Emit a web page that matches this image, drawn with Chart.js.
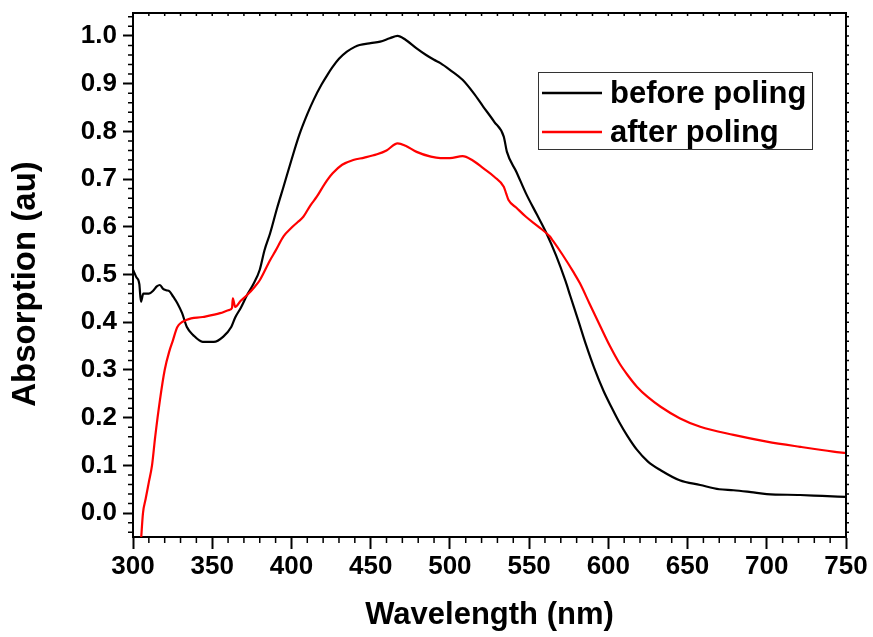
<!DOCTYPE html>
<html>
<head>
<meta charset="utf-8">
<script src="https://cdn.jsdelivr.net/npm/chart.js@4.4.0/dist/chart.umd.min.js"></script>
<style>
  html, body { margin: 0; padding: 0; background: #fff; }
  #wrap { width: 873px; height: 637px; }
</style>
</head>
<body>
<div id="wrap"><canvas id="absChart"></canvas></div>
<script>
const seriesLabels = ['before poling', 'after poling'];
const yTitle = 'Absorption (au)';
const xTitle = 'Wavelength (nm)';

const beforeWl = [300, 302, 304, 305, 306.5, 310, 313, 315, 317, 319, 321, 323, 325.5, 328, 331, 334, 338, 344, 351, 357,
  362, 364.5, 368, 372, 376, 380, 383, 386.5, 391, 395, 400, 405, 410, 414, 419, 423, 426, 430, 435, 440,
  443, 450, 456, 462, 467, 472, 479, 485, 490, 494, 500, 508, 515, 521, 528, 534, 536, 542, 548, 555,
  561, 567, 573, 576, 581, 586, 591, 597, 602, 607, 612, 618, 625, 633, 645, 658, 670, 679, 690, 700,
  721, 735, 750];
const beforeAbs = [0.51, 0.495, 0.48, 0.443, 0.46, 0.46, 0.467, 0.475, 0.478, 0.47, 0.467, 0.465, 0.453, 0.44, 0.419, 0.39, 0.373, 0.359, 0.359, 0.37,
  0.39, 0.41, 0.43, 0.457, 0.48, 0.51, 0.551, 0.586, 0.64, 0.684, 0.74, 0.793, 0.836, 0.866, 0.898, 0.92, 0.935, 0.952, 0.967, 0.977,
  0.981, 0.985, 0.988, 0.995, 1.0, 0.992, 0.974, 0.96, 0.95, 0.943, 0.929, 0.908, 0.88, 0.852, 0.82, 0.789, 0.757, 0.715, 0.67, 0.625,
  0.586, 0.54, 0.486, 0.455, 0.404, 0.352, 0.305, 0.256, 0.222, 0.19, 0.162, 0.133, 0.108, 0.09, 0.069, 0.059, 0.05, 0.048, 0.044, 0.04,
  0.038, 0.036, 0.034];

const afterWl = [305, 306.3, 308, 310, 312, 314, 317, 320, 323, 325, 328, 334, 344, 355, 361, 362.5, 363, 364.5, 368, 372,
  377, 380, 386.5, 390, 395, 400, 404, 407.5, 412, 416, 421, 426, 432, 439, 446, 454, 460, 467, 472, 479,
  488, 494, 500, 508, 514, 521, 528, 534, 535.5, 537, 542, 548, 556, 563, 565, 571, 578, 582, 588, 595,
  601, 607, 612, 618, 625, 633, 645, 658, 679, 700, 721, 742, 750];
const afterAbs = [-0.06, 0.0, 0.03, 0.065, 0.1, 0.16, 0.237, 0.3, 0.34, 0.36, 0.39, 0.405, 0.411, 0.419, 0.426, 0.43, 0.45, 0.432, 0.445, 0.457,
  0.475, 0.488, 0.53, 0.55, 0.58, 0.598, 0.61, 0.621, 0.645, 0.663, 0.69, 0.712, 0.73, 0.74, 0.745, 0.752, 0.76, 0.775, 0.77, 0.757,
  0.747, 0.744, 0.744, 0.748, 0.74, 0.723, 0.705, 0.684, 0.67, 0.656, 0.64, 0.621, 0.6, 0.58, 0.571, 0.542, 0.505, 0.482, 0.44, 0.391,
  0.35, 0.314, 0.29, 0.265, 0.243, 0.223, 0.199, 0.181, 0.164, 0.15, 0.139, 0.129, 0.126];

const xTicks = [300, 350, 400, 450, 500, 550, 600, 650, 700, 750];
const yTicks = [0.0, 0.1, 0.2, 0.3, 0.4, 0.5, 0.6, 0.7, 0.8, 0.9, 1.0];

const FONT = '"Liberation Sans", Arial, Helvetica, sans-serif';

// frame on top/right plus minor ticks (Origin style), and the y title
const framePlugin = {
    id: 'frame',
    afterDraw(chart) {
        const ctx = chart.ctx;
        const a = chart.chartArea;
        const xs = chart.scales.x, ys = chart.scales.y;
        ctx.save();
        ctx.strokeStyle = '#000';
        ctx.lineWidth = 2;
        ctx.beginPath();
        ctx.moveTo(a.left, a.top); ctx.lineTo(a.right, a.top); ctx.lineTo(a.right, a.bottom);
        ctx.stroke();
        ctx.lineWidth = 1.5;
        ctx.beginPath();
        for (let v = 310; v < 750; v += 10) {
            const px = xs.getPixelForValue(v);
            if (v % 50 !== 0) { ctx.moveTo(px, a.bottom); ctx.lineTo(px, a.bottom + 6); }
            ctx.moveTo(px, a.top); ctx.lineTo(px, a.top + 3);
        }
        for (let i = -2; i <= 52; i++) {
            const v = i * 0.02;
            const py = ys.getPixelForValue(v);
            if (py < a.top || py > a.bottom) continue;
            if (i % 5 !== 0) { ctx.moveTo(a.left, py); ctx.lineTo(a.left - 5, py); }
            ctx.moveTo(a.right, py); ctx.lineTo(a.right + 3, py);
        }
        ctx.stroke();

        ctx.translate(26, 284);
        ctx.rotate(-Math.PI / 2);
        ctx.font = 'bold 33px ' + FONT;
        ctx.textAlign = 'center';
        ctx.textBaseline = 'middle';
        ctx.fillStyle = '#000';
        ctx.fillText(yTitle, 0, 0);
        ctx.restore();
    }
};

// legend box inside the plot, upper right
const legendPlugin = {
    id: 'boxLegend',
    afterDraw(chart) {
        const ctx = chart.ctx;
        ctx.save();
        ctx.strokeStyle = '#333';
        ctx.lineWidth = 1;
        ctx.strokeRect(538.5, 72.5, 274, 77);
        ctx.font = 'bold 31px ' + FONT;
        ctx.textBaseline = 'middle';
        ctx.fillStyle = '#000';
        chart.data.datasets.forEach((ds, i) => {
            const y = 93 + i * 39;
            ctx.strokeStyle = ds.borderColor;
            ctx.lineWidth = 2.5;
            ctx.beginPath();
            ctx.moveTo(542, y); ctx.lineTo(602, y);
            ctx.stroke();
            ctx.fillText(ds.label, 610, y + 1);
        });
        ctx.restore();
    }
};

document.addEventListener("DOMContentLoaded", function () {
    const ctx = document.getElementById('absChart').getContext('2d');
    new Chart(ctx, {
        type: 'line',
        data: {
            datasets: [{
                label: seriesLabels[0],
                data: beforeWl.map((w, i) => ({ x: w, y: beforeAbs[i] })),
                borderColor: '#000000',
                borderWidth: 2.2,
                pointRadius: 0,
                cubicInterpolationMode: 'monotone',
                order: 1
            }, {
                label: seriesLabels[1],
                data: afterWl.map((w, i) => ({ x: w, y: afterAbs[i] })),
                borderColor: '#ff0000',
                borderWidth: 2.2,
                pointRadius: 0,
                cubicInterpolationMode: 'monotone',
                order: 0
            }]
        },
        options: {
            responsive: true,
            maintainAspectRatio: false,
            animation: false,
            layout: { padding: { top: 13, right: 27, left: 0, bottom: 0 } },
            plugins: {
                legend: { display: false },
                tooltip: { enabled: false }
            },
            scales: {
                x: {
                    type: 'linear',
                    min: 300,
                    max: 750,
                    afterBuildTicks: s => { s.ticks = xTicks.map(v => ({ value: v })); },
                    afterFit: s => { s.height = 100; s.paddingLeft = 0; s.paddingRight = 0; },
                    ticks: {
                        autoSkip: false,
                        maxRotation: 0,
                        padding: 2,
                        color: '#000',
                        font: { family: FONT, size: 26, weight: 'bold' },
                        callback: v => String(v)
                    },
                    grid: { display: true, drawOnChartArea: false, drawTicks: true, tickLength: 12, tickWidth: 2, tickColor: '#000' },
                    border: { display: true, color: '#000', width: 2 },
                    title: {
                        display: true,
                        text: xTitle,
                        color: '#000',
                        font: { family: FONT, size: 31, weight: 'bold' },
                        padding: { top: 0, bottom: 3 }
                    }
                },
                y: {
                    min: -0.05,
                    max: 1.048,
                    afterBuildTicks: s => { s.ticks = yTicks.map(v => ({ value: v })); },
                    afterFit: s => { s.width = 133; s.paddingTop = 0; s.paddingBottom = 0; },
                    ticks: {
                        autoSkip: false,
                        padding: 6,
                        color: '#000',
                        font: { family: FONT, size: 26, weight: 'bold' },
                        callback: v => v.toFixed(1)
                    },
                    grid: { display: true, drawOnChartArea: false, drawTicks: true, tickLength: 10, tickWidth: 2, tickColor: '#000' },
                    border: { display: true, color: '#000', width: 2 },
                    title: { display: false }
                }
            }
        },
        plugins: [framePlugin, legendPlugin]
    });
});
</script>
</body>
</html>
